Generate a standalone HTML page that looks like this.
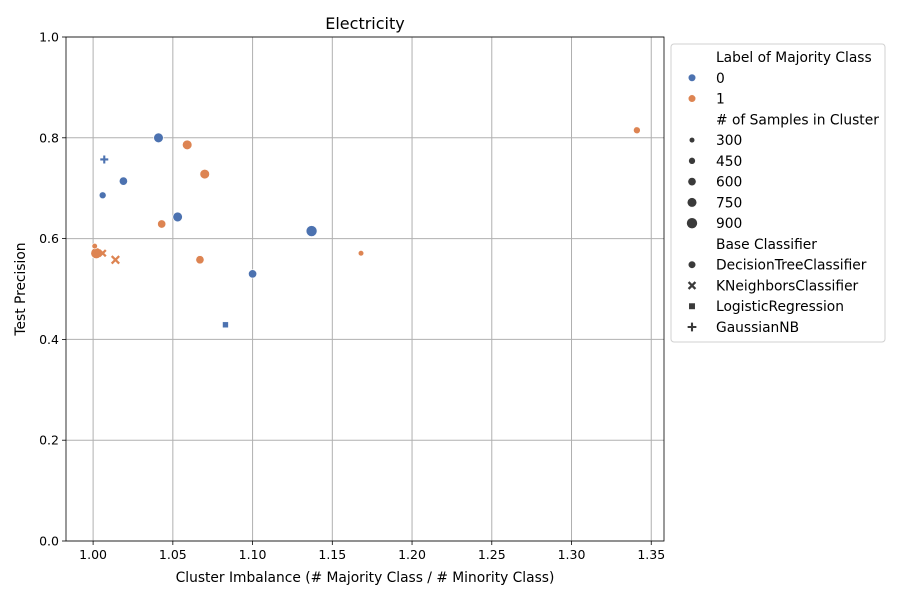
<!DOCTYPE html>
<html><head><meta charset="utf-8"><style>
body{margin:0;background:#fff;font-family:"Liberation Sans","DejaVu Sans",sans-serif}
svg text{font-family:"DejaVu Sans","Liberation Sans",sans-serif;fill:#000}
</style></head><body>
<svg id="chart" width="900" height="600" xmlns="http://www.w3.org/2000/svg"></svg>
<script>
const xTicks=[1.00,1.05,1.10,1.15,1.20,1.25,1.30,1.35];
const xTickLabels=["1.00","1.05","1.10","1.15","1.20","1.25","1.30","1.35"];
const yTicks=[0,0.2,0.4,0.6,0.8,1.0];
const yTickLabels=["0.0","0.2","0.4","0.6","0.8","1.0"];
const pointX=[1.041,1.007,1.019,1.006,1.053,1.137,1.100,1.083, 1.059,1.341,1.070,1.043,1.067,1.168,1.002,1.001,1.006,1.014];
const pointY=[0.800,0.757,0.714,0.686,0.643,0.615,0.530,0.429, 0.786,0.815,0.728,0.629,0.558,0.571,0.571,0.585,0.571,0.558];
const pointLabel=[0,0,0,0,0,0,0,0, 1,1,1,1,1,1,1,1,1,1];
const pointSamples=[750,450,600,450,750,900,600,450, 750,450,750,600,600,300,900,300,450,600];
const pointClf=["DT","GNB","DT","DT","DT","DT","DT","LR", "DT","DT","DT","DT","DT","DT","DT","DT","KN","KN"];
const sizeLevels=[300,450,600,750,900];
const clfNames=["DecisionTreeClassifier","KNeighborsClassifier","LogisticRegression","GaussianNB"];
const clfCodes=["DT","KN","LR","GNB"];
const colors=["#4c72b0","#dd8452"];
const NS="http://www.w3.org/2000/svg";
const svg=document.getElementById('chart');
const L=66,R=664,T=37,B=541,xmin=0.983,xmax=1.358;
const sx=v=>L+(v-xmin)/(xmax-xmin)*(R-L);
const sy=v=>B-v*(B-T);
const rad=s=>2.8+(s-300)/600*2.7;
function mk(tag,attrs,parent){const e=document.createElementNS(NS,tag);for(const k in attrs)e.setAttribute(k,attrs[k]);(parent||svg).appendChild(e);return e;}
function marker(code,cx,cy,r,col,parent){
  let e;
  if(code==="DT"){e=mk('circle',{cx,cy,r,fill:col,stroke:'#fff','stroke-width':0.6},parent);}
  else if(code==="LR"){e=mk('rect',{x:cx-r*0.85,y:cy-r*0.85,width:r*1.7,height:r*1.7,fill:col,stroke:'#fff','stroke-width':0.5},parent);}
  else if(code==="KN"){const d=r*0.9;e=mk('path',{d:`M${cx-d},${cy-d}L${cx+d},${cy+d}M${cx-d},${cy+d}L${cx+d},${cy-d}`,stroke:col,'stroke-width':2.3,fill:'none'},parent);}
  else {const d=r*1.15;e=mk('path',{d:`M${cx-d},${cy}L${cx+d},${cy}M${cx},${cy-d}L${cx},${cy+d}`,stroke:col,'stroke-width':2.1,fill:'none'},parent);}
  return e;
}
const grid=mk('g',{});


xTicks.forEach((t,i)=>{
  mk('line',{x1:sx(t),x2:sx(t),y1:T,y2:B,stroke:'#b0b0b0','stroke-width':1},grid);
  mk('line',{x1:sx(t),x2:sx(t),y1:B,y2:B+4,stroke:'#000','stroke-width':0.8});
  const tx=mk('text',{x:sx(t),y:B+18,'text-anchor':'middle','font-size':12.5});
  tx.textContent=xTickLabels[i];
  
  
});
yTicks.forEach((t,i)=>{
  mk('line',{x1:L,x2:R,y1:sy(t),y2:sy(t),stroke:'#b0b0b0','stroke-width':1},grid);
  mk('line',{x1:L-4,x2:L,y1:sy(t),y2:sy(t),stroke:'#000','stroke-width':0.8});
  const tx=mk('text',{x:L-7,y:sy(t)+4.5,'text-anchor':'end','font-size':12.5});
  tx.textContent=yTickLabels[i];
  
  
});
const pts=mk('g',{});


pointX.forEach((x,i)=>{
  const e=marker(pointClf[i],sx(x),sy(pointY[i]),rad(pointSamples[i]),colors[pointLabel[i]],pts);
  
  
});
const frame=mk('rect',{x:L,y:T,width:R-L,height:B-T,fill:'none',stroke:'#000','stroke-width':0.8});


let t=mk('text',{x:(L+R)/2,y:29,'text-anchor':'middle','font-size':16});t.textContent='Electricity';


t=mk('text',{x:(L+R)/2,y:582,'text-anchor':'middle','font-size':13.8});t.textContent='Cluster Imbalance (# Majority Class / # Minority Class)';


t=mk('text',{x:25,y:(T+B)/2,'text-anchor':'middle','font-size':13.8,transform:`rotate(-90 25 ${(T+B)/2})`});t.textContent='Test Precision';


const lg=mk('g',{});


mk('rect',{x:671,y:44,width:214,height:298,rx:3,fill:'#fff',stroke:'#d0d0d0','stroke-width':1},lg);
let row=0;const y0=57,dy=20.77;
function ltext(s,x){const e=mk('text',{x,y:y0+row*dy+5,'font-size':13.8},lg);e.textContent=s;
  
  
  return e;}
ltext('Label of Majority Class',716);row++;
['0','1'].forEach((s,i)=>{marker('DT',692,y0+row*dy,3.8,colors[i],lg);ltext(s,716);row++;});
ltext('# of Samples in Cluster',716);row++;
sizeLevels.forEach(s=>{marker('DT',692,y0+row*dy,rad(s),'#3a3a3a',lg);ltext(String(s),716);row++;});
ltext('Base Classifier',716);row++;
clfNames.forEach((n,i)=>{marker(clfCodes[i],692,y0+row*dy,3.8,'#3a3a3a',lg);ltext(n,716);row++;});
</script>
</body></html>
